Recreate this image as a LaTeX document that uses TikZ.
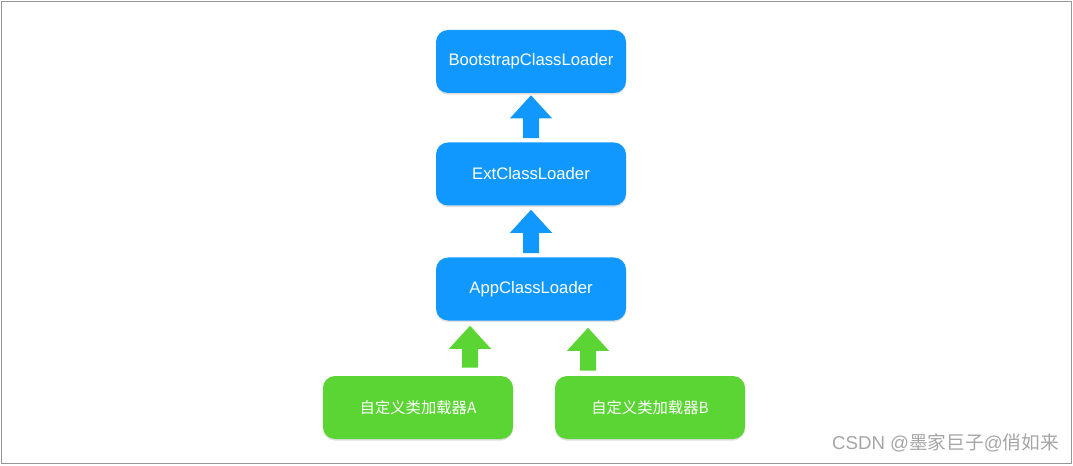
\documentclass[tikz,border=0pt]{standalone}
\usepackage{fontspec}
\setmainfont{Liberation Sans}
\newfontfamily\cjk{Noto Sans CJK SC}
\usetikzlibrary{calc,shadows}
\definecolor{boxblue}{RGB}{17,152,255}
\definecolor{boxgreen}{RGB}{90,213,52}
\definecolor{framegray}{RGB}{150,150,150}
\definecolor{wmgray}{RGB}{165,165,165}
\tikzset{
  loader/.style={rectangle, rounded corners=9pt, minimum width=142.5pt, minimum height=47.25pt,
    inner sep=0pt, text=white, font=\fontsize{12.5pt}{14pt}\selectfont,
    drop shadow={opacity=0.25, shadow xshift=0pt, shadow yshift=-1.2pt}},
  blueloader/.style={loader, fill=boxblue},
  greenloader/.style={loader, fill=boxgreen, font=\fontsize{11.5pt}{13pt}\selectfont\cjk},
}
% #1 colour, #2 tip coordinate, #3 bottom coordinate
\newcommand\fatup[3]{\fill[#1] let \p1=(#2), \p2=(#3) in
  (\x1,\y1) -- (\x1+15.75pt,\y1-17.25pt) -- (\x1+6pt,\y1-17.25pt) -- (\x1+6pt,\y2)
  -- (\x1-6pt,\y2) -- (\x1-6pt,\y1-17.25pt) -- (\x1-15.75pt,\y1-17.25pt) -- cycle;}
\begin{document}
\begin{tikzpicture}[x=0.75pt,y=-0.75pt]
\useasboundingbox (0,0) rectangle (1073,466);
\draw[framegray, line width=1pt] (1.5,1.5) rectangle (1071.5,463.5);

\node[blueloader] (boot) at (531,61.5) {BootstrapClassLoader};
\node[blueloader] (ext) at (531,174) {ExtClassLoader};
\node[blueloader] (app) at (531,289) {AppClassLoader};
\node[greenloader] (ca) at (418,407.5) {自定义类加载器A};
\node[greenloader] (cb) at (650,407.5) {自定义类加载器B};

\coordinate (t1) at ($(boot.south)+(0,2)$);
\coordinate (b1) at ($(ext.north)+(0,-4)$);
\coordinate (t2) at ($(ext.south)+(0,4)$);
\coordinate (b2) at ($(app.north)+(0,-4)$);
\coordinate (t3) at ($(app.south)+(-61,5)$);
\coordinate (b3) at ($(ca.north)+(52,-8)$);
\coordinate (t4) at ($(app.south)+(57,7)$);
\coordinate (b4) at ($(cb.north)+(-62,-5)$);
\fatup{boxblue}{t1}{b1}
\fatup{boxblue}{t2}{b2}
\fatup{boxgreen}{t3}{b3}
\fatup{boxgreen}{t4}{b4}

\node[anchor=east, text=wmgray, inner sep=0pt, font=\fontsize{14pt}{16pt}\selectfont] (wm) at (1059,443) {CSDN @{\cjk 墨家巨子}@{\cjk 俏如来}};
\end{tikzpicture}
\end{document}
